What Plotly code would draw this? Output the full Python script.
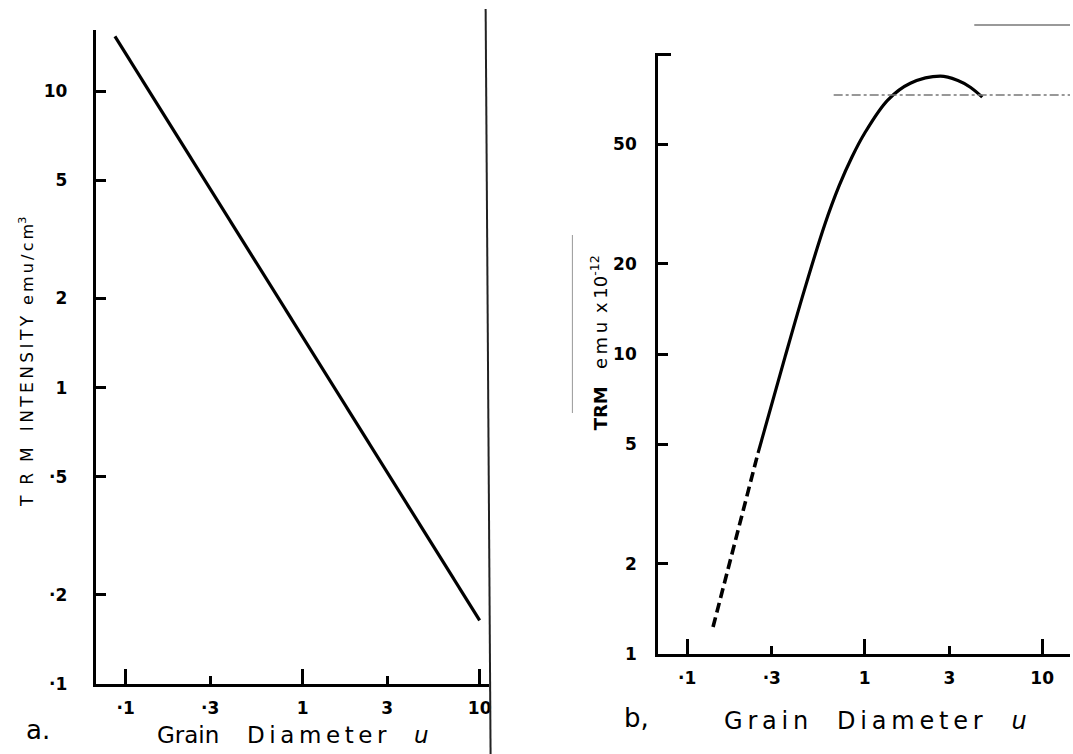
import plotly.graph_objects as go

# ---------------- data ----------------
# Panel a: TRM intensity vs grain diameter (straight line on log-log)
a_x = [0.087, 1.0, 10.0]
a_y = [15.3, 1.48, 0.164]

# Panel b: TRM (emu x 1e-12) vs grain diameter
b_dash_x = [0.140, 0.251]
b_dash_y = [1.23, 4.68]
b_solid_x = [0.251, 0.356, 0.46, 0.596, 0.72, 0.85, 1.0, 1.35, 1.81, 2.67, 3.33, 3.94, 4.6]
b_solid_y = [4.68, 9.77, 16.5, 27.0, 36.5, 45.5, 54.5, 70.3, 80.0, 84.5, 81.9, 77.6, 71.9]

x_tickvals = [0.1, 0.3, 1, 3, 10]
x_ticktext = ["·1", "·3", "1", "3", "10"]
x_major = [0.1, 1, 10]

a_y_tickvals = [0.1, 0.2, 0.5, 1, 2, 5, 10]
a_y_ticktext = ["·1", "·2", "·5", "1", "2", "5", "10"]

b_y_tickvals = [1, 2, 5, 10, 20, 50]
b_y_ticktext = ["1", "2", "5", "10", "20", "50"]
b_y_top = [100]

W, H = 1073, 754
HE = 744  # effective vertical scale of the rendered page


def px(xp):
    return xp / W


def py(yp):
    return 1 - yp / HE


TH = "\u2009"   # thin space
NB = "\u00a0"   # no-break space


def spaced(word, sep=TH):
    return sep.join(list(word))


tickfont = dict(family="DejaVu Sans", size=17, color="black", weight="bold")

fig = go.Figure()
fig.add_trace(go.Scatter(x=a_x, y=a_y, mode="lines", xaxis="x", yaxis="y",
                         line=dict(color="black", width=3.2), showlegend=False))
fig.add_trace(go.Scatter(x=b_dash_x, y=b_dash_y, mode="lines", xaxis="x2", yaxis="y2",
                         line=dict(color="black", width=3.6, dash="10px,5px"), showlegend=False))
fig.add_trace(go.Scatter(x=b_solid_x, y=b_solid_y, mode="lines", xaxis="x2", yaxis="y2",
                         line=dict(color="black", width=3.2, shape="spline", smoothing=1.0),
                         showlegend=False))


def xaxis_cfg(rng, dom, anchor):
    return dict(type="log", range=rng, domain=dom, anchor=anchor,
                showline=True, linewidth=3, linecolor="black", mirror=False,
                ticks="inside", ticklen=8, tickwidth=2.5, tickcolor="black",
                tickvals=x_tickvals, ticktext=x_ticktext, tickfont=tickfont,
                ticklabelstandoff=7,
                minor=dict(tickmode="array", tickvals=x_major, ticks="inside",
                           ticklen=15, tickwidth=2.5, tickcolor="black", showgrid=False),
                showgrid=False, zeroline=False)


def yaxis_cfg(rng, dom, anchor, tv, tt, standoff, minor_vals=None):
    cfg = dict(type="log", range=rng, domain=dom, anchor=anchor,
               showline=True, linewidth=3, linecolor="black", mirror=False,
               ticks="inside", ticklen=10, tickwidth=2.5, tickcolor="black",
               tickvals=tv, ticktext=tt, tickfont=tickfont,
               ticklabelstandoff=standoff,
               showgrid=False, zeroline=False)
    if minor_vals:
        cfg["minor"] = dict(tickmode="array", tickvals=minor_vals, ticks="inside",
                            ticklen=13, tickwidth=2.5, tickcolor="black", showgrid=False)
    return cfg


fig.update_layout(
    width=W, height=H,
    margin=dict(l=0, r=0, t=0, b=0),
    paper_bgcolor="white", plot_bgcolor="white",
    xaxis=xaxis_cfg([-1.169, 1.0507], [px(96), px(490)], "y"),
    yaxis=yaxis_cfg([-1, 1.2063], [py(684), py(30)], "x", a_y_tickvals, a_y_ticktext, 22),
    xaxis2=xaxis_cfg([-1.163, 1.157], [px(660), 1.0], "y2"),
    yaxis2=yaxis_cfg([0, 2.004], [py(654), py(53)], "x2", b_y_tickvals, b_y_ticktext, 15, b_y_top),
)

annotations = [
    dict(x=px(294), y=py(735),
         text="Grain" + "\u2003" + TH + spaced("Diameter") + "\u2003" + TH + "<i>u</i>",
         font=dict(family="DejaVu Sans", size=23, color="black")),
    dict(x=px(878), y=py(721),
         text=spaced("Grain") + "\u2003" + TH + spaced("Diameter") + "\u2003" + TH + "<i>u</i>",
         font=dict(family="DejaVu Sans", size=24, color="black")),
    dict(x=px(38), y=py(730), text="a.", font=dict(family="DejaVu Sans", size=26, color="black")),
    dict(x=px(638), y=py(718), text="b,", font=dict(family="DejaVu Sans", size=26, color="black")),
    dict(x=px(26), y=py(362), textangle=-90,
         text="T" + NB * 2 + "R" + NB * 2 + "M" + NB * 3 + spaced("INTENSITY") + NB * 2 +
              "<span style='font-size:16px'>" + spaced("emu/cm") + "<sup>3</sup></span>",
         font=dict(family="DejaVu Sans", size=17, color="black")),
    dict(x=px(601), y=py(343), textangle=-90,
         text="<b>TRM</b>" + NB * 3 + spaced("emu") + "\u2002x" + TH + "10<sup>-12</sup>",
         font=dict(family="DejaVu Sans", size=18, color="black")),
]
for a in annotations:
    a.update(xref="paper", yref="paper", showarrow=False, xanchor="center", yanchor="middle")
fig.update_layout(annotations=annotations)

# scan decorations (page border / faint ruled lines)
shapes = [
    dict(type="line", xref="paper", yref="paper", x0=px(487), x1=px(492), y0=py(9), y1=py(760),
         line=dict(color="#222", width=2)),
    dict(type="line", xref="paper", yref="paper", x0=px(977), x1=1.0, y0=py(25), y1=py(25),
         line=dict(color="#777", width=1.5)),
    dict(type="line", xref="paper", yref="paper", x0=px(836), x1=1.0, y0=py(95), y1=py(95),
         line=dict(color="#777", width=1.5, dash="dashdot")),
    dict(type="line", xref="paper", yref="paper", x0=px(574), x1=px(574), y0=py(235), y1=py(413),
         line=dict(color="#999", width=1)),
]
fig.update_layout(shapes=shapes)

fig.write_html("out.html")
